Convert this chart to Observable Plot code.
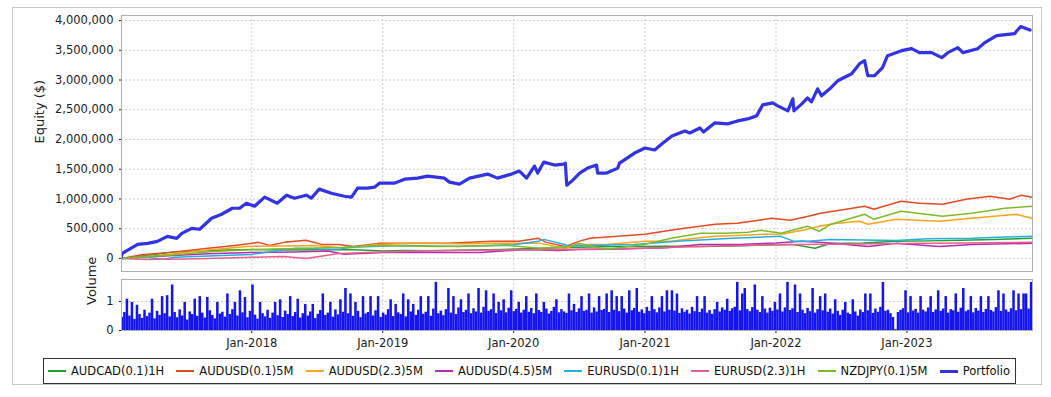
<!DOCTYPE html>
<html><head><meta charset="utf-8">
<script src="https://cdn.jsdelivr.net/npm/d3@7"></script>
<script src="https://cdn.jsdelivr.net/npm/@observablehq/plot@0.6"></script>
<style>
body{margin:0;background:#fff;font-family:"DejaVu Sans",sans-serif;}
#frame{position:absolute;left:12px;top:7px;width:1030px;height:378px;border:1px solid #c8c8c8;box-sizing:border-box;}
#eq{position:absolute;left:0;top:0;}
#vol{position:absolute;left:0;top:275px;}
#legend{position:absolute;left:43px;top:358px;width:973px;height:26px;box-sizing:border-box;border:1px solid #333;display:flex;justify-content:space-between;align-items:center;padding:0 5px 0 4px;font-size:11.5px;color:#111;}
.item{display:flex;align-items:center;white-space:nowrap}
.sw{display:inline-block;width:18px;height:2px;margin-right:5px}
</style></head>
<body>
<div id="frame"></div>
<div id="eq"></div>
<div id="vol"></div>
<div id="legend"></div>
<script>
// ---------- data ----------
const seriesNames = ["AUDCAD(0.1)1H","AUDUSD(0.1)5M","AUDUSD(2.3)5M","AUDUSD(4.5)5M","EURUSD(0.1)1H","EURUSD(2.3)1H","NZDJPY(0.1)5M","Portfolio"];
const seriesColors = ["#22a033","#e44b23","#ffa31a","#b42cb4","#27aee0","#ec5f8a","#7dbb2b","#3232e6"];

const audcad01_1h = [["2017-01-02",0],["2017-02-15",30000],["2017-04-01",60000],["2017-06-01",110000],["2017-08-01",125000],["2017-10-15",140000],["2018-01-01",150000],["2018-04-01",140000],["2018-07-01",145000],["2018-10-01",150000],["2019-01-01",125000],["2019-03-01",135000],["2019-06-01",130000],["2019-09-01",140000],["2019-12-01",150000],["2020-03-01",165000],["2020-06-01",185000],["2020-09-01",195000],["2020-12-01",200000],["2021-03-01",205000],["2021-06-01",200000],["2021-09-01",210000],["2021-12-01",225000],["2022-02-15",236000],["2022-04-20",170000],["2022-06-01",250000],["2022-09-01",260000],["2022-12-01",287000],["2023-03-01",295000],["2023-06-01",304000],["2023-09-01",320000],["2023-12-15",338000]];

const audusd01_5m = [["2017-01-02",0],["2017-03-01",60000],["2017-06-01",110000],["2017-09-01",170000],["2017-11-15",219000],["2018-01-20",270000],["2018-02-20",219000],["2018-04-01",270000],["2018-06-01",304000],["2018-07-15",236000],["2018-09-01",236000],["2018-10-10",202000],["2018-12-20",253000],["2019-03-01",253000],["2019-07-01",253000],["2019-11-01",287000],["2020-01-15",287000],["2020-03-10",338000],["2020-04-01",270000],["2020-05-24",202000],["2020-07-01",287000],["2020-08-01",338000],["2020-12-31",405000],["2021-04-01",490000],["2021-07-15",574000],["2021-09-15",591000],["2021-12-20",675000],["2022-02-10",641000],["2022-04-01",709000],["2022-05-05",760000],["2022-07-15",827000],["2022-09-05",878000],["2022-10-01",827000],["2022-12-15",962000],["2023-02-05",928000],["2023-04-10",911000],["2023-06-15",996000],["2023-08-20",1046000],["2023-10-15",996000],["2023-11-15",1063000],["2023-12-15",1030000]];

const audusd23_5m = [["2017-01-02",0],["2017-04-01",40000],["2017-07-01",100000],["2017-09-15",152000],["2017-12-20",202000],["2018-04-01",210000],["2018-07-01",219000],["2018-09-15",169000],["2018-12-15",236000],["2019-04-01",253000],["2019-08-01",245000],["2019-12-15",253000],["2020-03-15",253000],["2020-05-24",169000],["2020-07-01",236000],["2020-09-15",236000],["2021-01-01",287000],["2021-03-15",287000],["2021-05-20",338000],["2021-07-15",371000],["2021-10-01",390000],["2021-12-01",405000],["2022-01-20",410000],["2022-03-30",490000],["2022-05-01",540000],["2022-06-20",591000],["2022-08-20",624000],["2022-09-15",574000],["2022-12-01",658000],["2023-04-01",624000],["2023-07-01",675000],["2023-11-01",743000],["2023-12-15",675000]];

const audusd45_5m = [["2017-01-02",0],["2017-05-01",40000],["2017-09-01",80000],["2018-01-01",100000],["2018-05-01",110000],["2018-08-01",125000],["2018-09-15",70000],["2019-01-01",100000],["2019-06-01",100000],["2019-10-01",100000],["2020-02-01",150000],["2020-05-01",135000],["2020-07-01",150000],["2020-10-01",155000],["2021-01-01",170000],["2021-03-01",180000],["2021-06-01",236000],["2021-10-01",240000],["2022-01-01",260000],["2022-03-15",287000],["2022-06-01",260000],["2022-09-15",202000],["2022-12-01",253000],["2023-04-01",202000],["2023-07-01",236000],["2023-12-15",253000]];

const eurusd01_1h = [["2017-01-02",0],["2017-03-15",20000],["2017-05-01",-15000],["2017-06-01",20000],["2017-09-01",40000],["2018-01-01",67000],["2018-05-01",169000],["2018-09-01",152000],["2018-10-01",186000],["2019-03-01",219000],["2019-08-01",202000],["2020-01-01",230000],["2020-03-10",287000],["2020-03-25",320000],["2020-05-25",230000],["2020-06-01",210000],["2020-09-01",220000],["2020-12-01",236000],["2021-04-01",287000],["2021-09-01",338000],["2022-01-15",371000],["2022-02-20",287000],["2022-04-01",290000],["2022-06-01",320000],["2022-09-01",310000],["2022-12-01",300000],["2023-03-01",330000],["2023-07-01",340000],["2023-10-01",360000],["2023-12-15",371000]];

const eurusd23_1h = [["2017-01-02",0],["2017-03-15",-17000],["2017-07-01",-10000],["2017-09-01",0],["2018-01-01",20000],["2018-04-01",34000],["2018-06-01",0],["2018-09-01",84000],["2019-01-01",110000],["2019-06-01",135000],["2020-01-01",140000],["2020-05-01",150000],["2020-09-01",160000],["2021-01-01",170000],["2021-06-01",200000],["2022-01-01",230000],["2022-06-01",240000],["2023-01-01",250000],["2023-06-01",260000],["2023-12-15",270000]];

const nzdjpy01_5m = [["2017-01-02",0],["2017-06-01",60000],["2017-09-15",118000],["2018-03-01",160000],["2018-06-01",169000],["2018-09-15",186000],["2019-01-01",219000],["2019-06-01",202000],["2019-12-15",219000],["2020-03-15",169000],["2020-06-01",202000],["2020-07-01",253000],["2020-09-15",152000],["2020-12-31",236000],["2021-03-15",338000],["2021-06-05",422000],["2021-08-15",422000],["2021-10-15",439000],["2021-11-20",473000],["2022-01-15",422000],["2022-03-30",540000],["2022-05-01",456000],["2022-06-01",569000],["2022-09-05",743000],["2022-10-01",658000],["2022-12-15",793000],["2023-04-10",709000],["2023-07-01",760000],["2023-10-01",844000],["2023-12-15",878000]];

const portfolio = [["2017-01-02",20000],["2017-01-05",85000],["2017-02-17",236000],["2017-03-17",253000],["2017-04-13",287000],["2017-05-11",371000],["2017-06-06",338000],["2017-06-20",422000],["2017-07-18",506000],["2017-08-09",490000],["2017-09-11",675000],["2017-10-09",743000],["2017-11-08",844000],["2017-11-28",844000],["2017-12-17",928000],["2018-01-09",878000],["2018-02-06",1030000],["2018-03-13",928000],["2018-04-08",1063000],["2018-04-30",1013000],["2018-06-02",1063000],["2018-06-16",1013000],["2018-07-08",1165000],["2018-08-11",1097000],["2018-09-16",1046000],["2018-10-06",1030000],["2018-10-23",1181000],["2018-11-20",1181000],["2018-12-09",1198000],["2018-12-23",1266000],["2019-02-03",1266000],["2019-03-03",1333000],["2019-04-08",1350000],["2019-05-06",1384000],["2019-06-22",1350000],["2019-07-06",1283000],["2019-08-03",1249000],["2019-08-31",1350000],["2019-10-20",1418000],["2019-11-17",1350000],["2019-12-26",1418000],["2020-01-17",1468000],["2020-02-06",1350000],["2020-02-28",1553000],["2020-03-08",1435000],["2020-03-25",1620000],["2020-04-24",1570000],["2020-05-19",1586000],["2020-05-24",1600000],["2020-05-28",1232000],["2020-06-11",1300000],["2020-07-03",1435000],["2020-07-25",1519000],["2020-08-19",1570000],["2020-08-22",1435000],["2020-09-16",1435000],["2020-10-17",1519000],["2020-10-22",1603000],["2020-12-03",1772000],["2021-01-01",1857000],["2021-01-28",1823000],["2021-02-20",1940000],["2021-03-17",2059000],["2021-04-22",2143000],["2021-05-06",2110000],["2021-06-03",2194000],["2021-06-13",2126000],["2021-07-14",2279000],["2021-08-19",2262000],["2021-09-16",2312000],["2021-10-14",2346000],["2021-11-08",2397000],["2021-11-25",2582000],["2021-12-23",2616000],["2022-01-06",2565000],["2022-02-03",2481000],["2022-02-17",2684000],["2022-02-20",2481000],["2022-03-14",2599000],["2022-03-30",2700000],["2022-04-10",2633000],["2022-04-27",2852000],["2022-05-08",2734000],["2022-05-31",2852000],["2022-06-22",2987000],["2022-07-31",3105000],["2022-08-22",3274000],["2022-09-05",3325000],["2022-09-14",3072000],["2022-10-03",3072000],["2022-10-25",3207000],["2022-11-08",3409000],["2022-12-17",3494000],["2023-01-14",3527000],["2023-02-05",3460000],["2023-03-11",3460000],["2023-04-08",3376000],["2023-04-25",3460000],["2023-05-23",3544000],["2023-06-06",3460000],["2023-07-17",3527000],["2023-08-06",3629000],["2023-09-08",3747000],["2023-10-28",3781000],["2023-11-14",3899000],["2023-12-10",3840000]];

// weekly volume, first week starting 2017-01-02
const volumeStart = "2017-01-02";
const volume = [
0.45,0.62,1.08,0.5,0.97,0.38,0.87,0.55,0.42,0.7,
0.48,0.6,1.08,0.4,0.66,0.52,1.17,0.58,1.2,0.47,
1.57,0.62,0.44,0.71,0.5,0.97,0.36,0.64,0.55,1.08,
0.49,1.17,0.6,0.43,1.14,0.68,0.52,0.4,0.97,0.57,
0.63,0.46,1.26,0.55,0.72,0.97,0.5,1.37,0.61,1.14,
0.44,0.66,1.57,0.53,0.39,0.97,0.58,0.47,0.7,0.42,
0.6,0.97,0.51,1.06,0.45,0.67,0.55,1.17,0.48,0.62,
1.08,0.43,0.58,0.9,0.5,0.64,0.9,0.41,0.56,0.69,
1.26,0.52,0.6,0.97,0.46,0.71,0.54,1.06,0.63,1.45,
0.58,1.26,0.49,0.97,0.66,0.44,1.17,0.57,0.62,1.17,
0.5,0.68,1.17,0.45,0.6,0.53,0.72,1.06,0.48,0.9,
0.61,0.55,1.26,0.47,1.06,0.64,0.9,0.52,0.7,1.17,
0.56,0.63,1.17,0.49,0.74,1.66,0.58,0.67,0.51,0.72,
1.45,0.6,1.17,0.55,0.78,1.06,0.62,0.7,1.26,0.58,
0.75,0.64,1.45,0.6,0.8,1.37,0.66,0.72,1.26,0.59,
0.97,0.68,1.06,0.61,0.77,1.37,0.65,0.73,0.97,0.6,
0.7,1.17,0.63,0.76,0.58,1.26,0.69,0.62,0.97,0.74,
0.57,0.66,0.8,1.06,0.61,0.72,0.64,0.59,1.26,0.68,
0.9,0.62,0.75,1.17,0.66,0.7,1.26,0.6,0.78,0.64,
1.17,0.69,0.73,1.26,0.62,1.37,0.7,1.17,0.65,1.17,
0.74,0.6,1.37,0.68,0.76,1.45,0.63,0.71,0.58,0.8,
0.66,1.17,0.72,0.61,0.78,1.17,0.64,1.37,0.7,1.37,
0.67,1.26,0.59,0.75,0.63,0.7,0.57,0.8,0.65,1.17,
0.62,0.74,1.17,0.6,0.69,0.56,0.72,0.97,0.64,0.78,
0.7,1.08,0.66,0.75,0.8,1.66,0.68,1.26,1.45,0.72,
0.65,0.79,1.57,0.7,0.62,1.17,0.74,0.6,0.77,0.66,
0.97,0.71,1.26,0.64,0.78,1.66,0.69,0.75,1.57,0.62,
1.26,0.7,0.58,0.76,0.65,1.45,0.6,0.72,1.17,0.68,
1.26,0.63,0.74,0.57,1.06,0.66,0.52,0.7,0.97,0.6,
0.55,1.06,0.64,0.5,0.71,0.62,1.26,0.68,1.26,0.59,
0.74,0.63,0.8,1.66,0.66,0.7,0.58,0.45,0.03,0.62,
0.69,0.75,1.37,0.61,1.17,0.67,0.73,0.6,1.17,0.7,
0.64,0.78,1.17,0.62,0.71,1.37,0.66,0.74,1.17,0.6,
0.72,0.68,1.26,0.63,0.77,1.45,0.65,0.7,1.17,0.61,
0.76,0.67,1.17,0.62,0.73,1.17,0.69,0.64,0.79,1.37,
0.66,1.26,0.71,0.63,0.75,1.37,0.68,1.26,0.72,1.26,
1.26,0.74,1.66];

const yTicks = [0,500000,1000000,1500000,2000000,2500000,3000000,3500000,4000000];
const xTickLabels = ["Jan-2018","Jan-2019","Jan-2020","Jan-2021","Jan-2022","Jan-2023"];
const xDomain = ["2017-01-03","2023-12-17"];

// ---------- build ----------
const seriesData = [audcad01_1h,audusd01_5m,audusd23_5m,audusd45_5m,eurusd01_1h,eurusd23_1h,nzdjpy01_5m];
const rows = [];
seriesData.forEach((arr,k)=>arr.forEach(([d,v])=>rows.push({series:seriesNames[k],date:new Date(d),value:v})));
const portRows = portfolio.map(([d,v])=>({series:"Portfolio",date:new Date(d),value:v}));
const parseTick = d3.utcParse("%b-%Y");
const xTicks = xTickLabels.map(parseTick);
const fmtTick = d3.utcFormat("%b-%Y");
const dom = xDomain.map(d=>new Date(d));
const day = 864e5;
const v0 = new Date(volumeStart).getTime();
const volRows = volume.map((v,i)=>({start:new Date(v0+i*7*day),end:new Date(v0+(i+1)*7*day),v}));

const gridStyle = {stroke:"#cfcfcf",strokeOpacity:1,strokeDasharray:"2,2"};
const font = "DejaVu Sans, sans-serif";

const eq = Plot.plot({
  width:1051,height:275,marginLeft:121,marginRight:19,marginTop:15,marginBottom:4,
  style:{fontFamily:font,fontSize:"11.5px",color:"#222",background:"transparent",overflow:"visible"},
  x:{type:"utc",domain:dom,axis:null},
  y:{domain:[-220000,4085000]},
  color:{domain:seriesNames,range:seriesColors},
  marks:[
    Plot.gridX(xTicks,gridStyle),
    Plot.gridY(yTicks,gridStyle),
    Plot.axisY(yTicks,{tickFormat:d3.format(","),tickSize:2,tickPadding:6,label:null,fontSize:11.5}),
    Plot.text(["Equity ($)"],{frameAnchor:"left",dx:-82,rotate:-90,fontSize:13,fill:"#222"}),
    Plot.line(rows,{x:"date",y:"value",z:"series",stroke:"series",strokeWidth:1.5,clip:true}),
    Plot.line(portRows,{x:"date",y:"value",stroke:"series",strokeWidth:3.2,strokeLinejoin:"round",clip:true}),
    Plot.frame({stroke:"#b0b0b0"})
  ]
});
document.getElementById("eq").appendChild(eq);

const vol = Plot.plot({
  width:1051,height:80,marginLeft:121,marginRight:19,marginTop:4,marginBottom:25,
  style:{fontFamily:font,fontSize:"11.5px",color:"#222",background:"transparent",overflow:"visible"},
  x:{type:"utc",domain:dom},
  y:{domain:[0,1.76]},
  marks:[
    Plot.gridX(xTicks,gridStyle),
    Plot.gridY([1],gridStyle),
    Plot.rectY(volRows,{x1:"start",x2:"end",y:"v",fill:"#1414ee",clip:true}),
    Plot.axisX(xTicks,{tickFormat:fmtTick,tickSize:3,tickPadding:5,label:null,fontSize:11.5}),
    Plot.axisY([0,1],{tickSize:2,tickPadding:6,label:null,fontSize:11.5}),
    Plot.text(["Volume"],{frameAnchor:"left",dx:-30,rotate:-90,fontSize:13,fill:"#222"}),
    Plot.frame({stroke:"#b0b0b0"})
  ]
});
document.getElementById("vol").appendChild(vol);

// legend
const lg = document.getElementById("legend");
seriesNames.forEach((n,i)=>{
  const it = document.createElement("div"); it.className="item";
  const sw = document.createElement("span"); sw.className="sw";
  sw.style.background = seriesColors[i];
  if(n==="Portfolio"){sw.style.height="3px";}
  const t = document.createElement("span"); t.textContent = n;
  it.appendChild(sw); it.appendChild(t); lg.appendChild(it);
});
</script>
</body></html>
